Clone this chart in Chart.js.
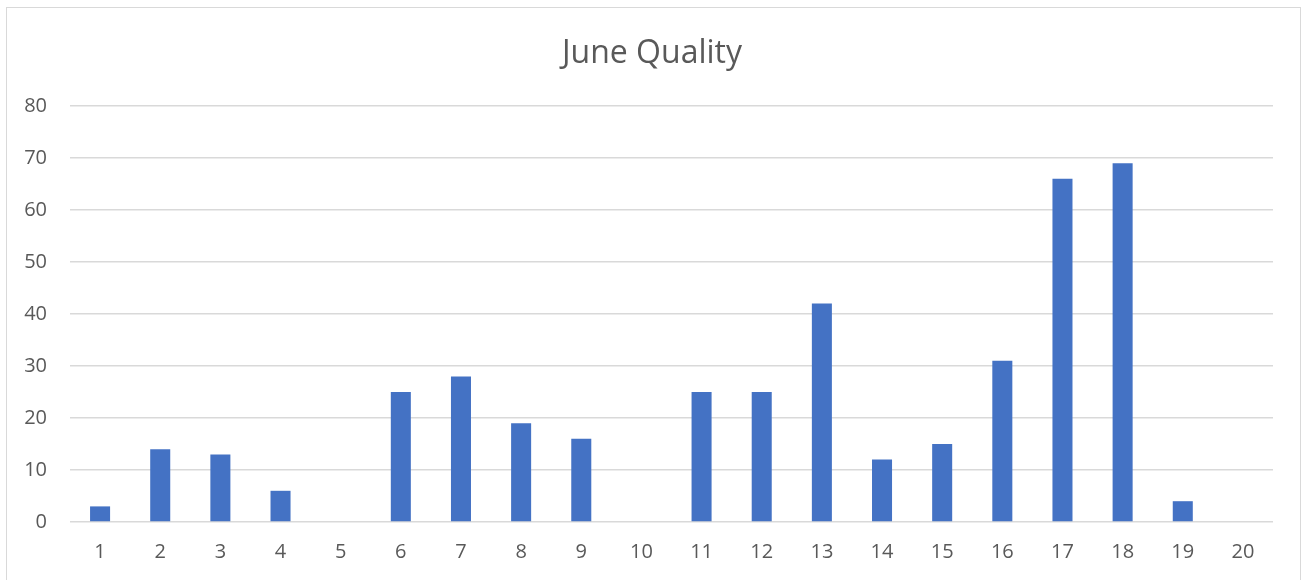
<!DOCTYPE html>
<html>
<head>
<meta charset="utf-8">
<title>June Quality</title>
<script src="https://cdn.jsdelivr.net/npm/chart.js@4/dist/chart.umd.min.js"></script>
<style>
  html, body { margin: 0; padding: 0; background: #ffffff; }
  #wrap { position: relative; width: 1304px; height: 580px; }
</style>
</head>
<body>
<div id="wrap"><canvas id="chart" width="1304" height="580"></canvas></div>
<script>
// Days of June and the quality count recorded for each
const days = ['1','2','3','4','5','6','7','8','9','10','11','12','13','14','15','16','17','18','19','20'];
const quality = [3, 14, 13, 6, 0, 25, 28, 19, 16, 0, 25, 25, 42, 12, 15, 31, 66, 69, 4, 0];
const yTicks = [0, 10, 20, 30, 40, 50, 60, 70, 80];

const textColor = '#595959';
const gridColor = '#d9d9d9';
const fontFamily = '"Open Sans", "Liberation Sans", sans-serif';

// Thin frame around the whole chart
const framePlugin = {
  id: 'frame',
  beforeDraw(chart) {
    const ctx = chart.ctx;
    ctx.save();
    ctx.fillStyle = '#ffffff';
    ctx.fillRect(0, 0, chart.width, chart.height);
    ctx.strokeStyle = gridColor;
    ctx.lineWidth = 1;
    ctx.strokeRect(6.5, 7.5, 1294, 600);
    ctx.restore();
  }
};

new Chart(document.getElementById('chart'), {
  type: 'bar',
  data: {
    labels: days,
    datasets: [{
      label: 'Quality',
      data: quality,
      backgroundColor: '#4472c4',
      borderWidth: 0,
      categoryPercentage: 1,
      barPercentage: 0.333
    }]
  },
  options: {
    responsive: false,
    animation: false,
    devicePixelRatio: 1,
    layout: { padding: 0 },
    plugins: {
      legend: { display: false },
      tooltip: { enabled: false },
      title: {
        display: true,
        text: 'June Quality',
        color: textColor,
        font: { family: fontFamily, size: 32, weight: 'normal' },
        padding: { top: 35, bottom: 32.6 }
      }
    },
    scales: {
      x: {
        grid: { display: false, drawTicks: false },
        border: { display: false },
        ticks: {
          color: textColor,
          font: { family: fontFamily, size: 20 },
          padding: 18,
          maxRotation: 0,
          autoSkip: false
        },
        afterFit(scale) { scale.height = 58; }
      },
      y: {
        min: 0,
        max: 80,
        afterBuildTicks(scale) {
          scale.ticks = yTicks.map(v => ({ value: v }));
        },
        grid: { color: gridColor, lineWidth: 1.5, drawTicks: false },
        border: { display: false },
        ticks: {
          color: textColor,
          font: { family: fontFamily, size: 20 },
          padding: 23
        },
        afterFit(scale) { scale.width = 70; }
      },
      // empty right-hand margin so the plot ends before the frame
      yRight: {
        position: 'right',
        display: true,
        grid: { display: false, drawTicks: false },
        border: { display: false },
        ticks: { display: false },
        afterFit(scale) { scale.width = 31; }
      }
    }
  },
  plugins: [framePlugin]
});
</script>
</body>
</html>
